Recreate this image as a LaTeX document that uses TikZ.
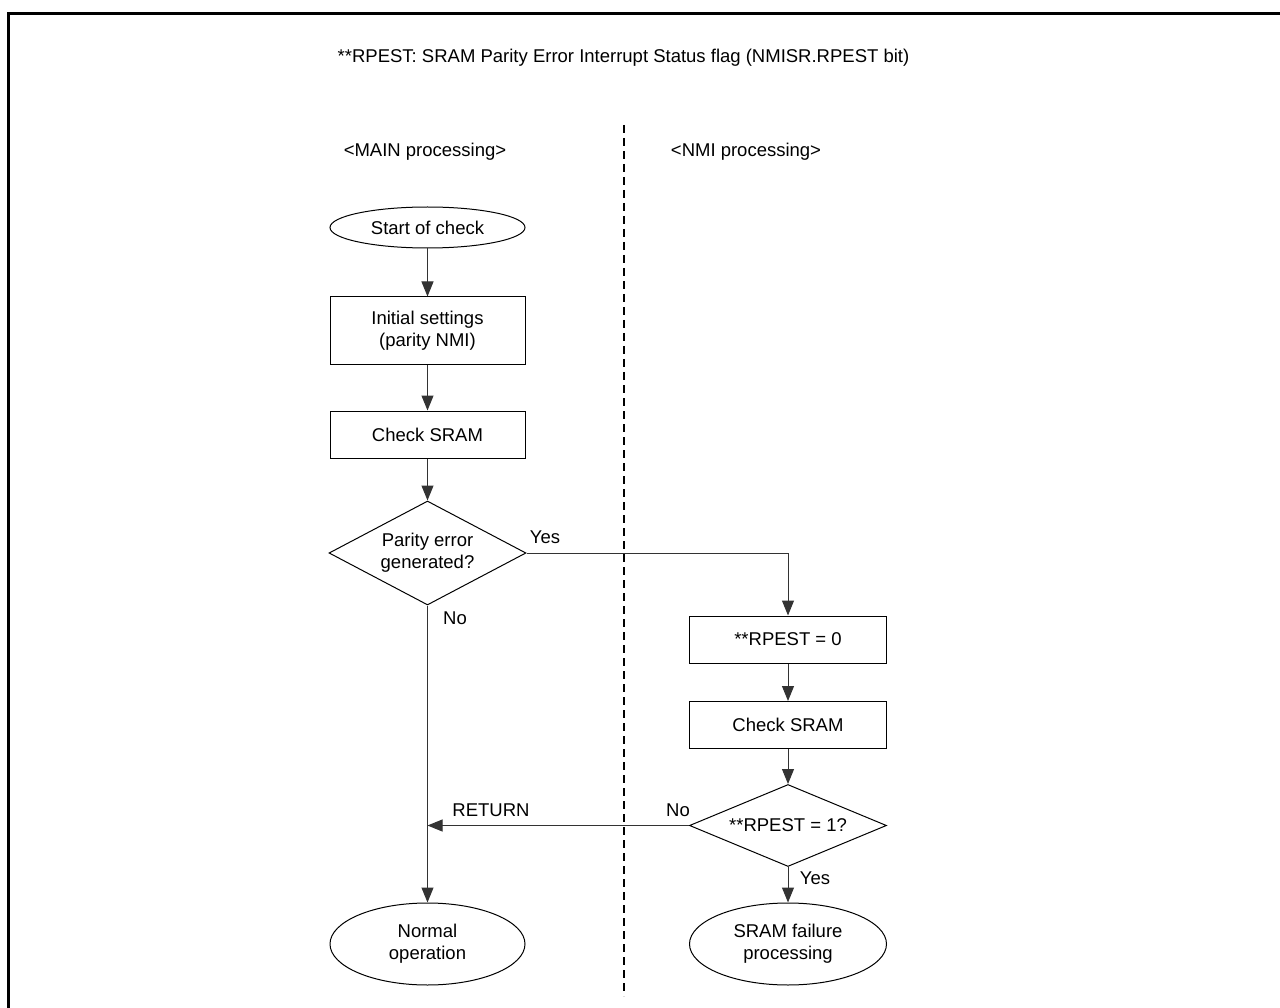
\documentclass[tikz,border=0pt]{standalone}
\usepackage{fontspec}
\setmainfont{Liberation Sans}
\usetikzlibrary{shapes.geometric,arrows.meta}
\begin{document}
\begin{tikzpicture}[x=1pt,y=-1pt,
  every node/.style={font=\fontsize{18.5}{22}\selectfont, align=center},
  procbox/.style={draw, line width=1pt, minimum width=195pt, minimum height=47pt, inner sep=0pt},
  termbox/.style={draw, ellipse, line width=1pt, minimum width=195pt, inner sep=0pt},
  decbox/.style={draw, diamond, line width=1pt, minimum width=197pt, minimum height=104pt, inner sep=0pt, aspect=1.9},
  conn/.style={line width=1pt, draw=black!80},
  arr/.style={conn, -{Triangle[width=12pt,length=15pt]}},
  lbl/.style={inner sep=0pt}
]
\useasboundingbox (0,0) rectangle (1280,1008);
% frame
\draw[line width=3pt] (8.5,1010) -- (8.5,13.5) -- (1282,13.5);
% title
\node[lbl] (title) at (623.5,58) {**RPEST: SRAM Parity Error Interrupt Status flag (NMISR.RPEST bit)};
\node[lbl] (mainh) at (425,152) {<MAIN processing>};
\node[lbl] (nmih) at (746,152) {<NMI processing>};
% separator
\coordinate (septop) at (624,125);
\coordinate (sepbot) at (624,996);
\draw[line width=2pt, dash pattern=on 8pt off 5pt] (septop) -- (sepbot);
% main column
\node[termbox, minimum height=41pt] (start) at (427.5,227.5) {Start of check};
\node[procbox, minimum height=67pt] (init) at (427.5,330.5) {Initial settings\\(parity NMI)};
\node[procbox] (chk1) at (427.5,434.5) {Check SRAM};
\node[decbox] (d1) at (427.5,553) {Parity error\\generated?};
\node[termbox, minimum height=82pt] (normal) at (427.5,944) {Normal\\operation};
% NMI column
\node[procbox, minimum width=197pt] (rp0) at (788,639.5) {**RPEST = 0};
\node[procbox, minimum width=197pt] (chk2) at (788,725) {Check SRAM};
\node[decbox, minimum height=82pt] (d2) at (788,825.5) {**RPEST = 1?};
\node[termbox, minimum width=197pt, minimum height=82pt] (fail) at (788,944) {SRAM failure\\processing};
% connectors
\draw[arr] (start) -- (init);
\draw[arr] (init) -- (chk1);
\draw[arr] (chk1) -- (d1);
\draw[arr] (d1.east) -| (rp0.north);
\draw[arr] (d1.south) -- (normal.north);
\draw[arr] (rp0) -- (chk2);
\draw[arr] (chk2) -- (d2);
\draw[arr] (d2.south) -- (fail.north);
\coordinate (ret) at (d1.south |- d2.west);
\draw[arr] (d2.west) -- (ret);
% labels
\node[lbl] (yes1) at (545,537) {Yes};
\node[lbl] (no1) at (455,618) {No};
\node[lbl] (retl) at (491,810) {RETURN};
\node[lbl] (no2) at (678,810) {No};
\node[lbl] (yes2) at (815,878) {Yes};
\end{tikzpicture}
\end{document}
